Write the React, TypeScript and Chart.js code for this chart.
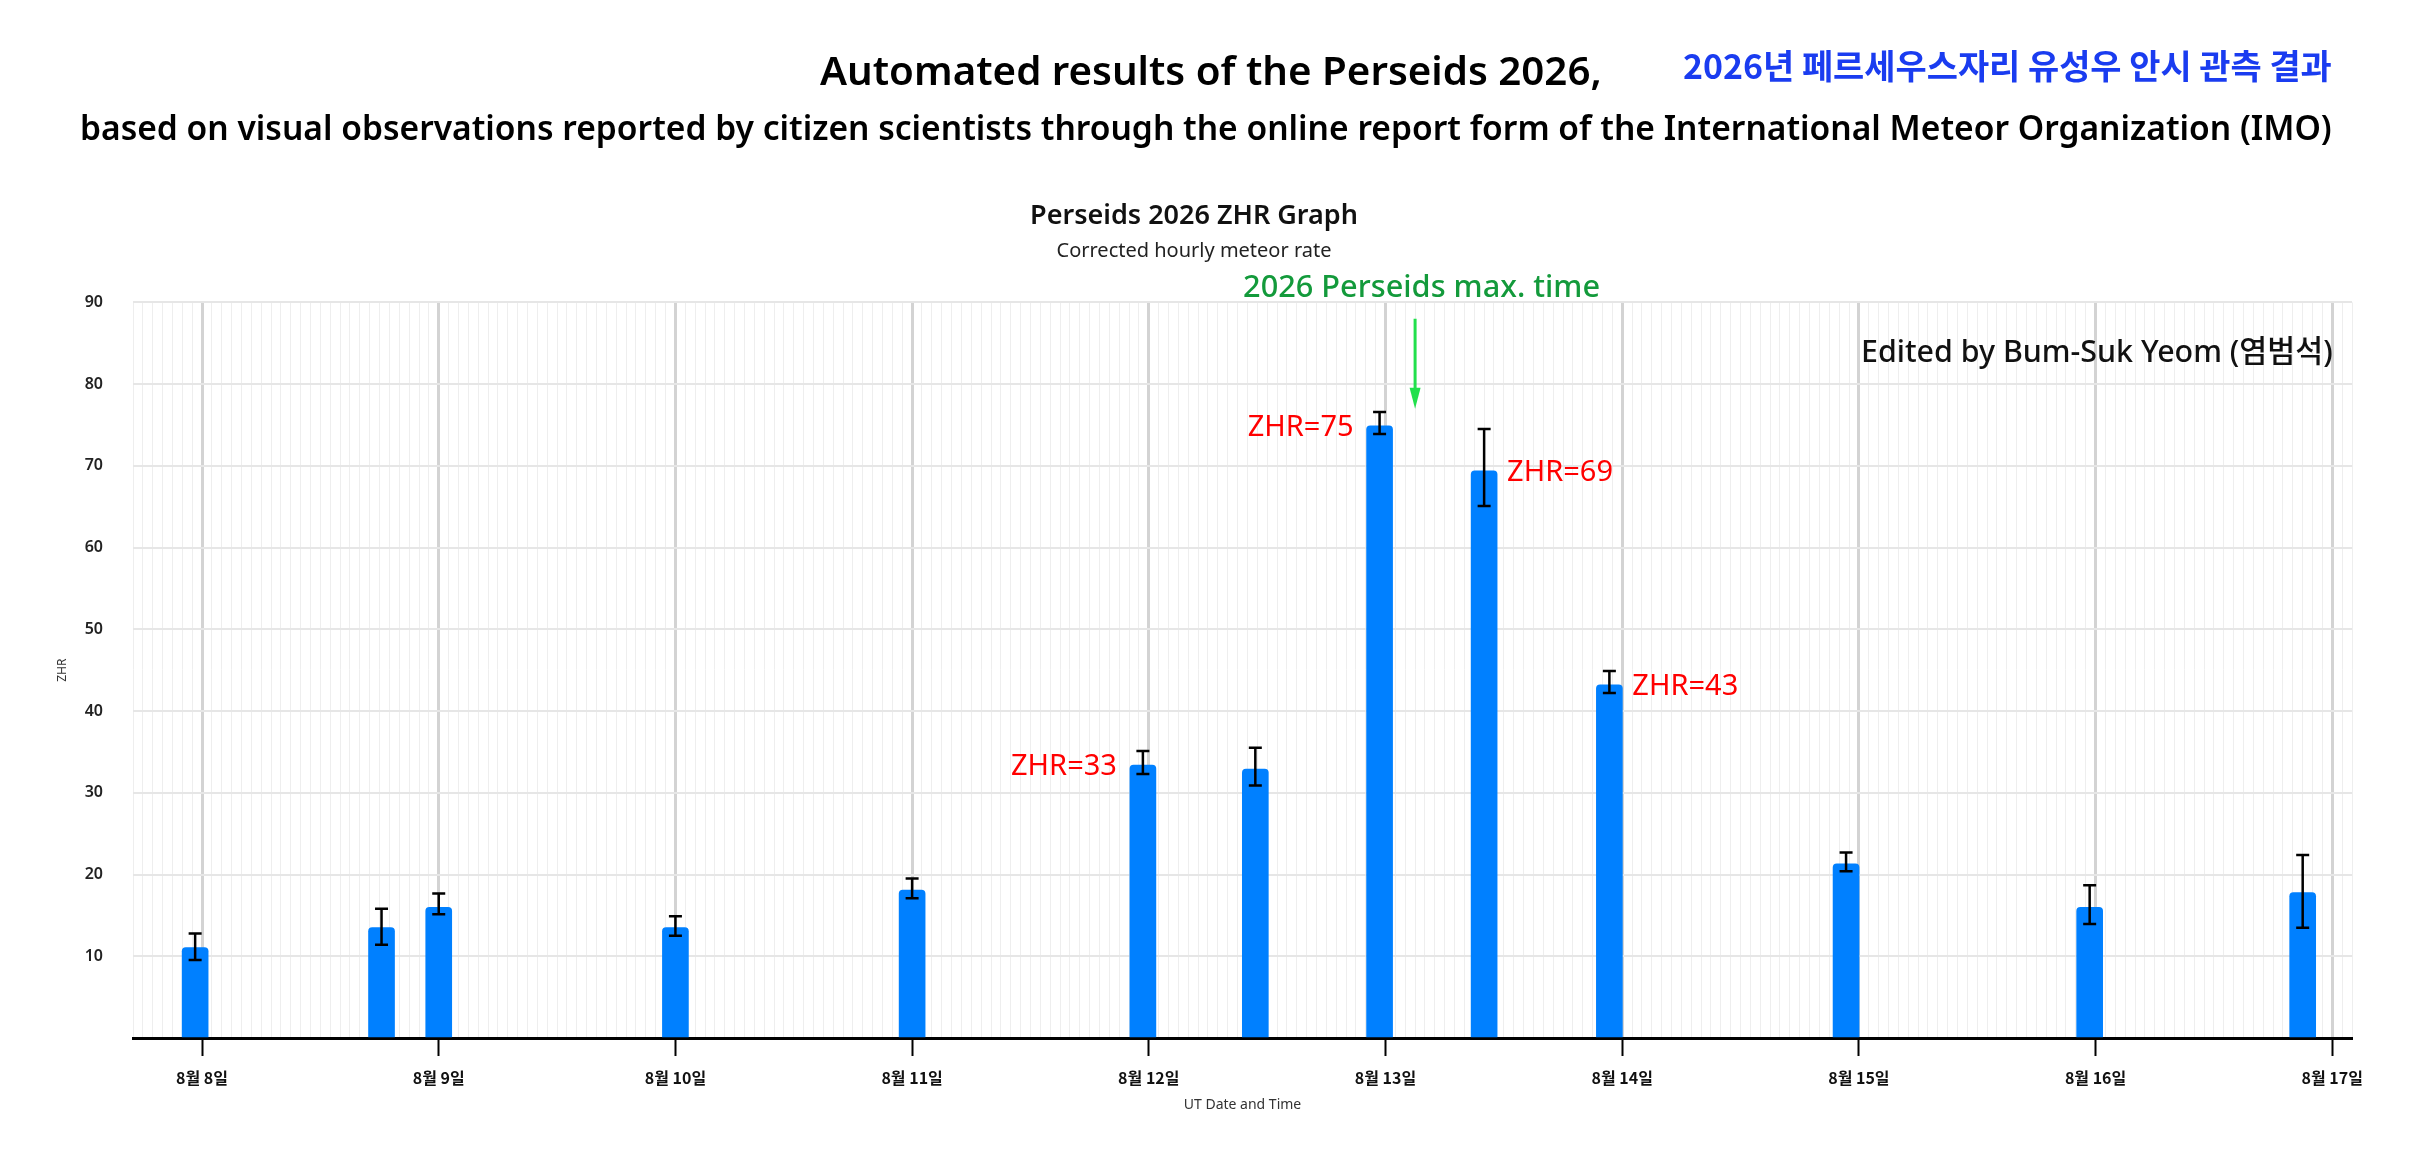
import { useEffect, useRef } from "react"
import { Chart, registerables } from "chart.js"

Chart.register(...registerables)

// observation times, in hours after 8월 8일 00:00 UT
const obsHours = [-0.7, 18.2, 24, 48, 72, 95.4, 106.8, 119.4, 130, 142.7, 166.7, 191.4, 213]
const zhrValues = [11.05, 13.5, 16.0, 13.5, 18.1, 33.4, 32.9, 74.9, 69.4, 43.2, 21.3, 16.0, 17.8]
const zhrLow = [9.55, 11.4, 15.15, 12.5, 17.1, 32.3, 30.9, 73.9, 65.1, 42.2, 20.4, 13.95, 13.5]
const zhrHigh = [12.8, 15.8, 17.67, 14.9, 19.5, 35.1, 35.5, 76.6, 74.5, 44.9, 22.7, 18.7, 22.4]

const dayLabels = ["8월 8일", "8월 9일", "8월 10일", "8월 11일", "8월 12일", "8월 13일", "8월 14일", "8월 15일", "8월 16일", "8월 17일"]

// red notes next to the biggest bars
const noteIndex = [5, 7, 8, 9]
const noteText = ["ZHR=33", "ZHR=75", "ZHR=69", "ZHR=43"]
const noteSide = ["left", "left", "right", "right"]

// predicted maximum (hours after 8월 8일 00:00) and the arrow span in ZHR units
const maxTimeHour = 123
const arrowFrom = 88
const arrowTo = 77

const FONT = '"Noto Sans", "Noto Sans CJK KR", sans-serif'
const KFONT = '"Noto Sans CJK KR", "Noto Sans", sans-serif'

const isDay = (v: any) => typeof v === "number" && v % 24 === 0

// draws text stretched to a given width (left..right) on a given baseline
function fitText(ctx: CanvasRenderingContext2D, text: string, left: number, right: number, baseline: number, weight: string, color: string, family = FONT) {
  ctx.font = `${weight} 100px ${family}`
  const w = ctx.measureText(text).width
  const size = (100 * (right - left)) / w
  ctx.font = `${weight} ${size}px ${family}`
  ctx.fillStyle = color
  ctx.textAlign = "left"
  ctx.textBaseline = "alphabetic"
  ctx.fillText(text, left, baseline)
}

const overlay = {
  id: "overlay",
  afterDatasetsDraw(chart: any) {
    const { ctx, chartArea } = chart
    const xs = chart.scales.x
    const ys = chart.scales.y
    ctx.save()

    // error bars
    ctx.strokeStyle = "#000"
    ctx.lineWidth = 2.5
    obsHours.forEach((h, i) => {
      const x = xs.getPixelForValue(h)
      const y1 = ys.getPixelForValue(zhrHigh[i])
      const y2 = ys.getPixelForValue(zhrLow[i])
      ctx.beginPath()
      ctx.moveTo(x, y1)
      ctx.lineTo(x, y2)
      ctx.moveTo(x - 6.5, y1)
      ctx.lineTo(x + 6.5, y1)
      ctx.moveTo(x - 6.5, y2)
      ctx.lineTo(x + 6.5, y2)
      ctx.stroke()
    })

    // ZHR notes
    ctx.font = `normal 29px ${FONT}`
    ctx.fillStyle = "#ff0000"
    ctx.textBaseline = "alphabetic"
    noteIndex.forEach((idx, k) => {
      const x = xs.getPixelForValue(obsHours[idx])
      const y = ys.getPixelForValue(zhrValues[idx]) + 10
      if (noteSide[k] === "left") {
        ctx.textAlign = "right"
        ctx.fillText(noteText[k], x - 13 - 13, y)
      } else {
        ctx.textAlign = "left"
        ctx.fillText(noteText[k], x + 13 + 10, y)
      }
    })

    // max time arrow
    const ax = xs.getPixelForValue(maxTimeHour)
    const ay1 = ys.getPixelForValue(arrowFrom)
    const ay2 = ys.getPixelForValue(arrowTo)
    ctx.strokeStyle = "#22e04c"
    ctx.fillStyle = "#22e04c"
    ctx.lineWidth = 3
    ctx.beginPath()
    ctx.moveTo(ax, ay1)
    ctx.lineTo(ax, ay2 - 18)
    ctx.stroke()
    ctx.beginPath()
    ctx.moveTo(ax - 5.5, ay2 - 21)
    ctx.lineTo(ax + 5.5, ay2 - 21)
    ctx.lineTo(ax, ay2)
    ctx.closePath()
    ctx.fill()

    fitText(ctx, "2026 Perseids max. time", ax - 172, ax + 185, chartArea.top - 5, "500", "#139a3b")
    fitText(ctx, "Edited by Bum-Suk Yeom (염범석)", chartArea.right - 19 - 472, chartArea.right - 19, chartArea.top + 60, "500", "#111")

    // page headers
    fitText(ctx, "Automated results of the Perseids 2026,", 820, 1602, 85, "600", "#000")
    fitText(ctx, "based on visual observations reported by citizen scientists through the online report form of the International Meteor Organization (IMO)", 80, 2332, 140, "600", "#000")
    fitText(ctx, "2026년 페르세우스자리 유성우 안시 관측 결과", 1683, 2332, 79, "bold", "#1a3cf0", KFONT)

    ctx.restore()
  },
}

export default function App() {
  const canvasRef = useRef<HTMLCanvasElement>(null)
  const chartRef = useRef<Chart | null>(null)

  useEffect(() => {
    document.body.style.margin = "0"
    if (!canvasRef.current) return
    if (chartRef.current) chartRef.current.destroy()
    const ctx = canvasRef.current.getContext("2d")
    if (!ctx) return

    chartRef.current = new Chart(ctx, {
      type: "bar",
      data: {
        datasets: [
          {
            label: "ZHR",
            data: obsHours.map((h, i) => ({ x: h, y: zhrValues[i] })),
            backgroundColor: "#0080ff",
            barThickness: 26,
            borderRadius: 4,
          },
        ],
      },
      options: {
        responsive: false,
        animation: false,
        layout: { padding: { left: 36, right: 60, top: 0, bottom: 0 } },
        plugins: {
          legend: { display: false },
          tooltip: { enabled: false },
          title: {
            display: true,
            text: "Perseids 2026 ZHR Graph",
            color: "#111",
            font: { family: FONT, size: 27, weight: "600" },
            padding: { top: 200, bottom: 0 },
          },
          subtitle: {
            display: true,
            text: "Corrected hourly meteor rate",
            color: "#222",
            font: { family: FONT, size: 20, weight: "normal" },
            padding: { top: 7, bottom: 39 },
          },
        },
        scales: {
          x: {
            type: "linear",
            min: -7,
            max: 218,
            offset: false,
            grid: {
              offset: false,
              drawTicks: true,
              tickLength: 18,
              tickWidth: 2,
              color: (c: any) => (isDay(c.tick?.value) ? "#d3d3d3" : "#eeeeee"),
              lineWidth: (c: any) => (isDay(c.tick?.value) ? 3 : 1),
              tickColor: (c: any) => (isDay(c.tick?.value) ? "#000" : "rgba(0,0,0,0)"),
            },
            border: { display: true, color: "#000", width: 3 },
            ticks: {
              stepSize: 1,
              maxTicksLimit: 1000,
              autoSkip: false,
              minRotation: 0,
              maxRotation: 0,
              padding: 12,
              color: "#111",
              font: { family: KFONT, size: 16, weight: "bold" },
              callback: (v: any) => (isDay(v) ? dayLabels[v / 24] ?? "" : ""),
            },
            title: {
              display: true,
              text: "UT Date and Time",
              color: "#333",
              font: { family: FONT, size: 14 },
              padding: { top: 4, bottom: 37 },
            },
            afterFit: (s: any) => {
              s.height = 112
            },
          },
          y: {
            min: 0,
            max: 90,
            grid: { color: "#e6e6e6", lineWidth: 2, drawTicks: false },
            border: { display: false },
            ticks: {
              stepSize: 10,
              padding: 30,
              color: "#222",
              font: { family: FONT, size: 16, weight: "600" },
              callback: (v: any) => (v === 0 ? "" : String(v)),
            },
            title: {
              display: true,
              text: "ZHR",
              color: "#333",
              font: { family: FONT, size: 12 },
              padding: { top: 19, bottom: 4 },
            },
            afterFit: (s: any) => {
              s.width = 97
            },
          },
        },
      },
      plugins: [overlay],
    })

    return () => {
      if (chartRef.current) {
        chartRef.current.destroy()
        chartRef.current = null
      }
    }
  }, [])

  return (
    <div style={{ position: "fixed", left: 0, top: 0, width: 2412, height: 1150, background: "#fff" }}>
      <canvas ref={canvasRef} width={2412} height={1150} style={{ display: "block" }} />
    </div>
  )
}
